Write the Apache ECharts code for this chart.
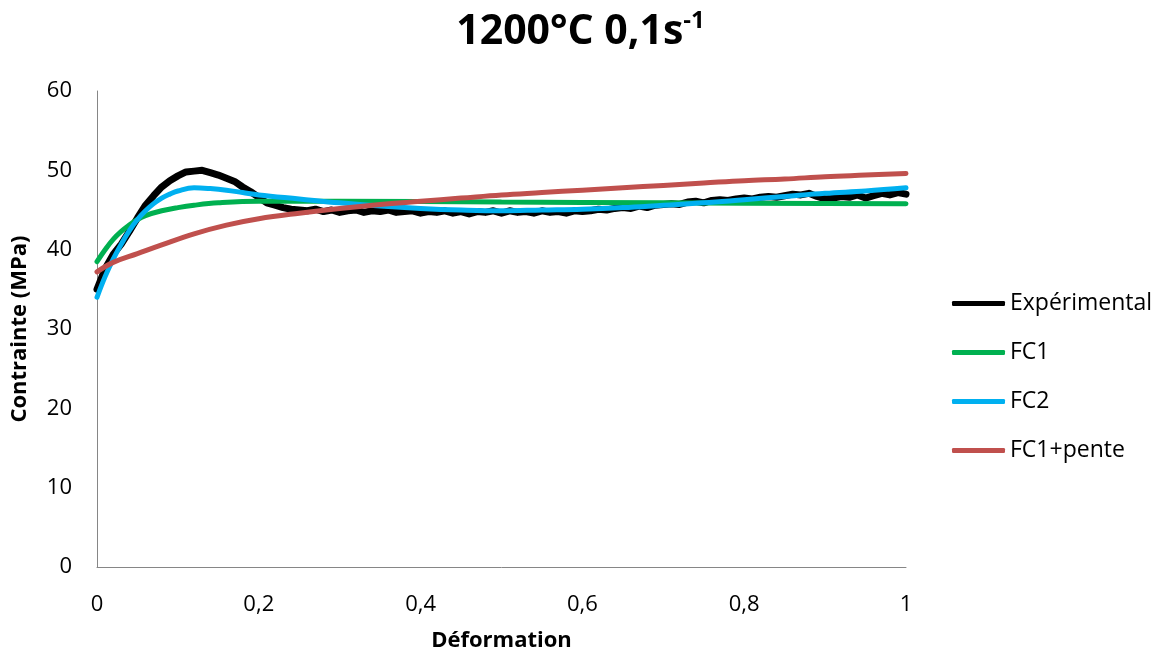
<!DOCTYPE html>
<html>
<head>
<meta charset="utf-8">
<script src="https://cdn.jsdelivr.net/npm/echarts@6/dist/echarts.min.js"></script>
<style>html,body{margin:0;padding:0;background:#fff;}#c{width:1161px;height:653px;}</style>
</head>
<body>
<div id="c"></div>
<script>
const seriesNames = ['Expérimental', 'FC1', 'FC2', 'FC1+pente'];
const xTickValues = [0, 0.2, 0.4, 0.6, 0.8, 1];
const xTickLabels = ['0', '0,2', '0,4', '0,6', '0,8', '1'];
const yTickLabels = ['0', '10', '20', '30', '40', '50', '60'];

const expStrain = [0.00,0.01,0.02,0.03,0.04,0.05,0.06,0.07,0.08,0.09,0.10,0.11,0.12,0.13,0.14,0.15,0.16,0.17,0.18,0.19,0.20,0.21,0.22,0.23,0.24,0.25,0.26,0.27,0.28,0.29,0.30,0.31,0.32,0.33,0.34,0.35,0.36,0.37,0.38,0.39,0.40,0.41,0.42,0.43,0.44,0.45,0.46,0.47,0.48,0.49,0.50,0.51,0.52,0.53,0.54,0.55,0.56,0.57,0.58,0.59,0.60,0.61,0.62,0.63,0.64,0.65,0.66,0.67,0.68,0.69,0.70,0.71,0.72,0.73,0.74,0.75,0.76,0.77,0.78,0.79,0.80,0.81,0.82,0.83,0.84,0.85,0.86,0.87,0.88,0.89,0.90,0.91,0.92,0.93,0.94,0.95,0.96,0.97,0.98,0.99,1.00];
const expStress = [35.0,37.6,39.4,40.7,42.3,44.0,45.6,46.8,47.9,48.7,49.3,49.8,49.9,50.0,49.7,49.4,49.0,48.6,47.9,47.3,46.6,45.9,45.6,45.3,45.1,45.0,44.9,45.1,44.8,45.0,44.7,44.9,45.0,44.7,44.9,44.8,45.0,44.7,44.8,44.9,44.6,44.8,44.7,44.9,44.6,44.8,44.5,44.8,44.7,44.9,44.6,44.9,44.7,44.8,44.6,44.9,44.7,44.8,44.6,44.9,44.8,44.9,45.1,45.0,45.2,45.3,45.2,45.5,45.3,45.6,45.7,45.8,45.7,46.0,46.1,45.9,46.2,46.3,46.2,46.4,46.5,46.4,46.6,46.7,46.6,46.8,47.0,46.9,47.1,46.7,46.4,46.5,46.7,46.6,46.9,46.5,46.8,47.1,46.9,47.2,47.0];

const fc1Strain = [0, 0.01, 0.02, 0.03, 0.04, 0.05, 0.06, 0.08, 0.10, 0.12, 0.15, 0.20, 0.30, 0.50, 0.70, 1.00];
const fc1Stress = [38.5, 40.0, 41.3, 42.3, 43.1, 43.8, 44.3, 44.9, 45.3, 45.6, 45.9, 46.1, 46.1, 46.0, 45.9, 45.8];

const fc2Strain = [0, 0.01, 0.02, 0.03, 0.04, 0.05, 0.06, 0.07, 0.08, 0.09, 0.10, 0.12, 0.14, 0.16, 0.18, 0.20, 0.25, 0.30, 0.35, 0.40, 0.45, 0.50, 0.55, 0.60, 0.65, 0.70, 0.75, 0.80, 0.85, 0.90, 0.95, 1.00];
const fc2Stress = [34.0, 36.6, 38.8, 40.7, 42.4, 43.8, 44.9, 45.8, 46.5, 47.0, 47.4, 47.8, 47.7, 47.5, 47.2, 46.9, 46.4, 45.9, 45.5, 45.2, 45.0, 44.9, 45.0, 45.1, 45.3, 45.6, 45.9, 46.3, 46.7, 47.1, 47.4, 47.8];

const fc1pStrain = [0, 0.02, 0.05, 0.08, 0.12, 0.16, 0.20, 0.25, 0.30, 0.35, 0.40, 0.45, 0.50, 0.55, 0.60, 0.65, 0.70, 0.75, 0.80, 0.85, 0.90, 0.95, 1.00];
const fc1pStress = [37.2, 38.4, 39.5, 40.6, 42.0, 43.1, 43.9, 44.6, 45.2, 45.7, 46.1, 46.5, 46.9, 47.2, 47.5, 47.8, 48.1, 48.4, 48.7, 48.9, 49.2, 49.4, 49.6];

const colors = ['#000000', '#00B050', '#00B0F0', '#C0504D'];
const FONT = '"Open Sans", "DejaVu Sans", sans-serif';

function zip(a, b) { return a.map((v, i) => [v, b[i]]); }

const chart = echarts.init(document.getElementById('c'), null, {renderer: 'canvas'});
chart.setOption({
  animation: false,
  backgroundColor: '#ffffff',
  color: colors,
  title: {
    text: '{a|1200°C 0,1s}{b|-1}',
    left: 'center',
    top: 2,
    textStyle: {
      rich: {
        a: {fontFamily: FONT, fontWeight: 'bold', fontSize: 41, color: '#000', verticalAlign: 'bottom', lineHeight: 46},
        b: {fontFamily: FONT, fontWeight: 'bold', fontSize: 24, color: '#000', verticalAlign: 'bottom', lineHeight: 24, padding: [0, 0, 20, 0]}
      }
    }
  },
  grid: {left: 97, right: 255, top: 91, bottom: 86, containLabel: false, outerBoundsMode: 'none'},
  legend: {
    orient: 'vertical',
    left: 952,
    top: 292,
    padding: 0,
    itemWidth: 53,
    itemHeight: 5,
    itemGap: 26,
    icon: 'roundRect',
    textStyle: {fontFamily: FONT, fontSize: 23, color: '#000'},
    data: seriesNames
  },
  xAxis: {
    type: 'value',
    min: 0, max: 1, interval: 0.2,
    name: 'Déformation',
    nameLocation: 'middle',
    nameGap: 63,
    nameTextStyle: {fontFamily: FONT, fontWeight: 'bold', fontSize: 22, color: '#000'},
    axisLine: {show: true, lineStyle: {color: '#868686', width: 1}},
    axisTick: {show: false},
    splitLine: {show: false},
    axisLabel: {
      margin: 27, fontFamily: FONT, fontSize: 22, color: '#000',
      formatter: v => { const i = xTickValues.findIndex(t => Math.abs(t - v) < 1e-9); return i >= 0 ? xTickLabels[i] : ''; }
    }
  },
  yAxis: {
    type: 'value',
    min: 0, max: 60, interval: 10,
    name: 'Contrainte (MPa)',
    nameLocation: 'middle',
    nameGap: 66,
    nameTextStyle: {fontFamily: FONT, fontWeight: 'bold', fontSize: 22, color: '#000'},
    axisLine: {show: true, lineStyle: {color: '#868686', width: 1}},
    axisTick: {show: false},
    splitLine: {show: false},
    axisLabel: {
      margin: 25, fontFamily: FONT, fontSize: 22, color: '#000',
      formatter: v => yTickLabels[Math.round(v / 10)]
    }
  },
  series: [
    {name: seriesNames[0], type: 'line', data: zip(expStrain, expStress), symbol: 'none', showSymbol: false, smooth: false, lineStyle: {width: 7, color: colors[0], join: 'round', cap: 'round'}},
    {name: seriesNames[1], type: 'line', data: zip(fc1Strain, fc1Stress), symbol: 'none', showSymbol: false, smooth: 0.4, lineStyle: {width: 5, color: colors[1], cap: 'round'}},
    {name: seriesNames[2], type: 'line', data: zip(fc2Strain, fc2Stress), symbol: 'none', showSymbol: false, smooth: 0.4, lineStyle: {width: 5, color: colors[2], cap: 'round'}},
    {name: seriesNames[3], type: 'line', data: zip(fc1pStrain, fc1pStress), symbol: 'none', showSymbol: false, smooth: 0.4, lineStyle: {width: 5, color: colors[3], cap: 'round'}}
  ]
});
</script>
</body>
</html>
